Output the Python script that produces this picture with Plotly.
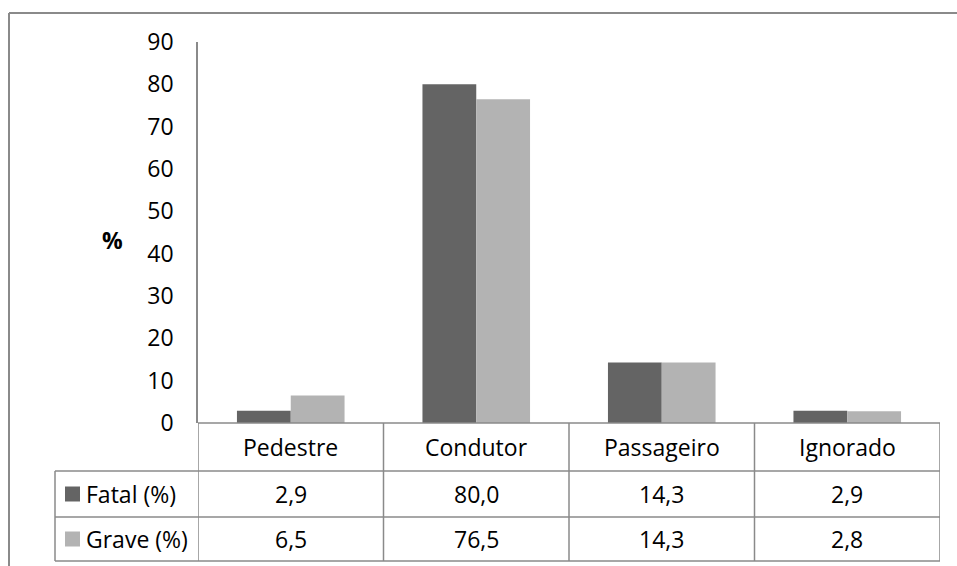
import plotly.graph_objects as go

# ---- data ----
categories = ["Pedestre", "Condutor", "Passageiro", "Ignorado"]
fatal = [2.9, 80.0, 14.3, 2.9]
grave = [6.5, 76.5, 14.3, 2.8]
series_names = ["Fatal (%)", "Grave (%)"]
series_colors = ["#646464", "#b3b3b3"]
y_ticks = list(range(0, 100, 10))
y_title = "%"

W, H = 957, 566
FONT = "Open Sans"
FS = 23
LINE = "#8a8a8a"


def fx(px):
    return px / W


def fy(px):
    return 1 - px / H


# plot area geometry (pixels)
X0, X1 = 198, 940
Y_TOP, Y_ZERO = 42, 423
ROW1, ROW2, ROW3 = 471, 517, 561
TBL_LEFT = 55

fig = go.Figure()
for name, vals, col in zip(series_names, [fatal, grave], series_colors):
    fig.add_trace(go.Bar(x=categories, y=vals, name=name,
                         marker=dict(color=col, line=dict(width=0))))

fig.update_layout(
    width=W, height=H, autosize=False,
    margin=dict(l=0, r=0, t=0, b=0, pad=0, autoexpand=False),
    paper_bgcolor="white", plot_bgcolor="white",
    barmode="group", bargap=0.42, bargroupgap=0,
    showlegend=False,
    font=dict(family=FONT, size=FS, color="black"),
    xaxis=dict(domain=[fx(X0), fx(X1)], range=[-0.5, 3.5], showticklabels=False,
               showgrid=False, zeroline=False, showline=False, fixedrange=True,
               automargin=False),
    yaxis=dict(domain=[fy(Y_ZERO), fy(Y_TOP)], range=[0, 90], tickvals=y_ticks,
               showgrid=False, zeroline=False, showline=True, linecolor=LINE,
               linewidth=1.5, ticks="", ticklabelstandoff=18, automargin=False,
               tickfont=dict(family=FONT, size=FS, color="black")),
)

shapes = []
# outer chart border (top and left visible)
shapes.append(dict(type="line", xref="paper", yref="paper", x0=fx(9), x1=1,
                   y0=fy(13), y1=fy(13), line=dict(color=LINE, width=2)))
shapes.append(dict(type="line", xref="paper", yref="paper", x0=fx(9), x1=fx(9),
                   y0=fy(13), y1=0, line=dict(color=LINE, width=2)))
# horizontal table lines
shapes.append(dict(type="line", xref="paper", yref="paper", x0=fx(X0), x1=fx(X1),
                   y0=fy(Y_ZERO), y1=fy(Y_ZERO), line=dict(color=LINE, width=1.5)))
for yy in [ROW1, ROW2, ROW3]:
    shapes.append(dict(type="line", xref="paper", yref="paper", x0=fx(TBL_LEFT), x1=fx(X1),
                       y0=fy(yy), y1=fy(yy), line=dict(color=LINE, width=1.5)))
# vertical lines at category boundaries
for i in range(len(categories) + 1):
    shapes.append(dict(type="line", xref="x", yref="paper", x0=i - 0.5, x1=i - 0.5,
                       y0=fy(Y_ZERO), y1=fy(ROW3), line=dict(color=LINE, width=1.5)))
# legend column left edge
shapes.append(dict(type="line", xref="paper", yref="paper", x0=fx(TBL_LEFT), x1=fx(TBL_LEFT),
                   y0=fy(ROW1), y1=fy(ROW3), line=dict(color=LINE, width=1.5)))

annotations = []
# category header
for i, c in enumerate(categories):
    annotations.append(dict(x=i, y=fy((Y_ZERO + ROW1) / 2), xref="x", yref="paper",
                            text=c, showarrow=False, xanchor="center", yanchor="middle",
                            font=dict(family=FONT, size=FS, color="black")))
# data rows
rows = [(ROW1, ROW2), (ROW2, ROW3)]
for (ra, rb), name, vals, col in zip(rows, series_names, [fatal, grave], series_colors):
    yc = (ra + rb) / 2
    for i, v in enumerate(vals):
        annotations.append(dict(x=i, y=fy(yc), xref="x", yref="paper",
                                text=f"{v:.1f}".replace(".", ","), showarrow=False,
                                xanchor="center", yanchor="middle",
                                font=dict(family=FONT, size=FS, color="black")))
    # legend key
    shapes.append(dict(type="rect", xref="paper", yref="paper", x0=fx(65), x1=fx(80),
                       y0=fy(yc - 7.5), y1=fy(yc + 7.5), fillcolor=col, line=dict(width=0)))
    annotations.append(dict(x=fx(84), y=fy(yc), xref="paper", yref="paper", text=name,
                            showarrow=False, xanchor="left", yanchor="middle",
                            font=dict(family=FONT, size=FS, color="black")))
# y title
annotations.append(dict(x=fx(112), y=fy(240), xref="paper", yref="paper",
                        text=f"<b>{y_title}</b>", showarrow=False, xanchor="center",
                        yanchor="middle", font=dict(family=FONT, size=FS, color="black")))

fig.update_layout(shapes=shapes, annotations=annotations)
fig.write_html("out.html")
